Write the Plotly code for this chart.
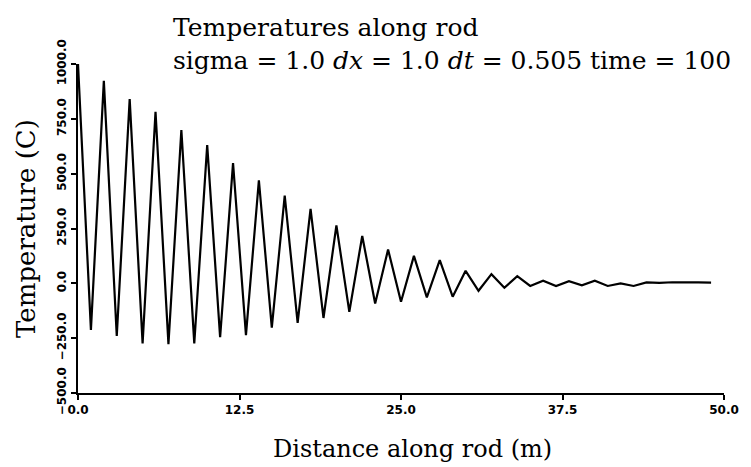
import plotly.graph_objects as go

# Data
distance = list(range(0, 50))
temperature = [1000, -213, 923, -240, 840, -274, 782, -277, 699, -274,
               630, -246, 548, -236, 470, -202, 400, -180, 340, -158,
               264, -130, 216, -92, 154, -84, 125, -64, 106, -61,
               57, -34, 42, -20, 33, -12, 12, -12, 10, -9,
               12, -12, 0, -12, 4, 2, 5, 3, 4, 3]

x_ticks = [0.0, 12.5, 25.0, 37.5, 50.0]
y_ticks = [-500.0, -250.0, 0.0, 250.0, 500.0, 750.0, 1000.0]

title_lines = ["Temperatures along rod",
               "sigma = 1.0 <i>dx</i> = 1.0 <i>dt</i> = 0.505 time = 100"]
x_title = "Distance along rod (m)"
y_title = "Temperature (C)"

SERIF = "DejaVu Serif"
TICKFONT = dict(family="DejaVu Sans", size=12, color="black", weight="bold")

W, H = 751, 467
L, R, T, B = 78, 15, 64, 74
PW, PH = W - L - R, H - T - B


def px_to_paper_x(px):
    return (px - L) / PW


def px_to_paper_y(py):
    return (H - B - py) / PH


fig = go.Figure()
fig.add_trace(go.Scatter(x=distance, y=temperature, mode="lines",
                         line=dict(color="black", width=2.2),
                         showlegend=False, hoverinfo="skip"))

fig.update_layout(
    width=W, height=H,
    margin=dict(l=L, r=R, t=T, b=B),
    paper_bgcolor="white", plot_bgcolor="white",
)
fig.update_xaxes(range=[0, 50], tickvals=x_ticks, tickformat=".1f",
                 showgrid=False, zeroline=False, showline=True,
                 linecolor="black", linewidth=2, ticks="outside",
                 ticklen=5, tickwidth=1.5, tickcolor="black",
                 tickfont=TICKFONT)
fig.update_yaxes(range=[-500, 1000], tickvals=y_ticks, tickformat=".1f",
                 showgrid=False, zeroline=False, showline=True,
                 linecolor="black", linewidth=2, ticks="outside",
                 ticklen=5, tickwidth=1.5, tickcolor="black",
                 tickangle=-90, tickfont=TICKFONT)

# Two-line title
fig.add_annotation(text="<br>".join(title_lines), xref="paper", yref="paper",
                   x=px_to_paper_x(173), y=px_to_paper_y(11),
                   xanchor="left", yanchor="top", align="left", showarrow=False,
                   font=dict(family=SERIF, size=25, color="black"))
fig.add_annotation(text=x_title, xref="paper", yref="paper",
                   x=px_to_paper_x(419), y=px_to_paper_y(449),
                   xanchor="center", yanchor="middle", showarrow=False,
                   font=dict(family=SERIF, size=24, color="black"))
fig.add_annotation(text=y_title, xref="paper", yref="paper",
                   x=px_to_paper_x(25), y=px_to_paper_y(228), textangle=-90,
                   xanchor="center", yanchor="middle", showarrow=False,
                   font=dict(family=SERIF, size=26, color="black"))

fig.write_html("out.html")
